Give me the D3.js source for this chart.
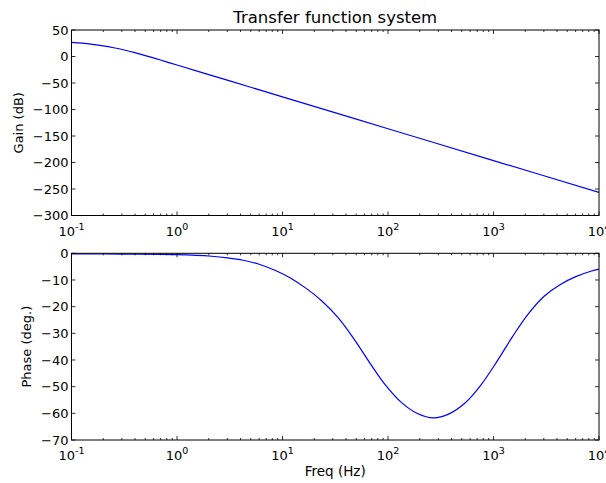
<!DOCTYPE html>
<meta charset="utf-8">
<script src="https://d3js.org/d3.v7.min.js"></script>
<style>
  body { margin: 0; background: #fff; }
  text { font-family: "DejaVu Sans", sans-serif; fill: #000; }
</style>
<div id="chart"></div>
<script>
// values
var gainFreq = [0.1, 0.126, 0.158, 0.2, 0.251, 0.316, 0.398, 0.501, 0.631, 0.794, 1, 2, 5, 10, 100, 1000, 10000];
var gainDb   = [26.8, 25.2, 23.0, 20.1, 16.5, 12.2, 7.2, 1.7, -4.1, -10.05, -16.05, -34.15, -58.05, -76.15, -136.25, -196.35, -256.45];

var phaseFreq = [0.1, 0.3, 1, 2.13, 3.01, 4.25, 6.0, 8.48, 12.0, 16.9, 23.9, 33.8, 47.7, 67.4, 95.2, 134.5, 190, 269,
                 380, 537, 759, 1072, 1514, 2138, 3020, 4266, 6026, 8511, 10000];
var phaseDeg  = [-0.23, -0.3, -0.5, -1.1, -1.7, -2.6, -4.1, -6.35, -9.35, -13.25, -18.05, -24.2, -32.15, -41.15, -49.55, -56.0, -60.05, -61.7,
                 -60.2, -56.15, -49.4, -40.7, -31.25, -22.7, -16.1, -11.75, -8.75, -6.65, -5.95];

var gainTicks = [50, 0, -50, -100, -150, -200, -250, -300];
var phaseTicks = [0, -10, -20, -30, -40, -50, -60, -70];
var decadeTicks = [0.1, 1, 10, 100, 1000, 10000];
var decadeExp = ["-1", "0", "1", "2", "3", "4"];

var W = 606, H = 483;
var left = 71.5, right = 599;

var svg = d3.select("#chart").append("svg")
    .attr("width", W)
    .attr("height", H);

var minorTicks = [];
decadeTicks.slice(0, -1).forEach(function(d) {
  for (var k = 2; k <= 9; k++) minorTicks.push(d * k);
});

function panel(top, bottom, freqs, vals, yTicks, yLabel, yLabelX, domain) {
  var x = d3.scaleLog().domain([0.1, 10000]).range([left, right]);
  var y = d3.scaleLinear().domain(domain).range([bottom, top]);

  var line = d3.line()
      .x(function(d, i) { return x(freqs[i]); })
      .y(function(d) { return y(d); })
      .curve(d3.curveCatmullRom.alpha(0.5));

  var g = svg.append("g");
  var cid = "clip" + Math.round(top);

  g.append("defs").append("clipPath").attr("id", cid)
    .append("rect").attr("x", left).attr("y", top).attr("width", right - left).attr("height", bottom - top);

  g.append("path")
    .datum(vals)
    .attr("d", line)
    .attr("clip-path", "url(#" + cid + ")")
    .attr("fill", "none")
    .attr("stroke", "#0000ff")
    .attr("stroke-width", 1.2);

  // ticks inside, on all four sides
  var tk = g.append("g").attr("stroke", "#000").attr("stroke-width", 0.8);
  decadeTicks.forEach(function(d) {
    tk.append("line").attr("x1", x(d)).attr("x2", x(d)).attr("y1", bottom).attr("y2", bottom - 4);
    tk.append("line").attr("x1", x(d)).attr("x2", x(d)).attr("y1", top).attr("y2", top + 4);
  });
  minorTicks.forEach(function(d) {
    tk.append("line").attr("x1", x(d)).attr("x2", x(d)).attr("y1", bottom).attr("y2", bottom - 2);
    tk.append("line").attr("x1", x(d)).attr("x2", x(d)).attr("y1", top).attr("y2", top + 2);
  });
  yTicks.forEach(function(d) {
    tk.append("line").attr("x1", left).attr("x2", left + 4).attr("y1", y(d)).attr("y2", y(d));
    tk.append("line").attr("x1", right).attr("x2", right - 4).attr("y1", y(d)).attr("y2", y(d));
  });

  g.append("rect")
    .attr("x", left).attr("y", top)
    .attr("width", right - left).attr("height", bottom - top)
    .attr("fill", "none").attr("stroke", "#000").attr("stroke-width", 1);

  g.selectAll(".ylab").data(yTicks).enter().append("text")
    .attr("x", left - 3)
    .attr("y", function(d) { return y(d); })
    .attr("dy", "0.36em")
    .attr("text-anchor", "end")
    .style("font-size", "13px")
    .text(function(d) { return d < 0 ? "\u2212" + (-d) : d; });

  var xl = g.selectAll(".xlab").data(decadeTicks).enter().append("text")
    .attr("x", function(d) { return x(d); })
    .attr("y", bottom + 20)
    .attr("text-anchor", "middle")
    .style("font-size", "13px");
  xl.append("tspan").text("10");
  xl.append("tspan")
    .attr("dy", -6)
    .style("font-size", "9.5px")
    .text(function(d, i) { return decadeExp[i]; });

  g.append("text")
    .attr("transform", "translate(" + yLabelX + "," + ((top + bottom) / 2) + ")rotate(-90)")
    .attr("text-anchor", "middle")
    .style("font-size", "13px")
    .text(yLabel);
}

panel(30, 215.5, gainFreq, gainDb, gainTicks, "Gain (dB)", 23, [-300, 50]);
panel(253.3, 440, phaseFreq, phaseDeg, phaseTicks, "Phase (deg.)", 31, [-70, 0]);

svg.append("text")
  .attr("x", (left + right) / 2)
  .attr("y", 23)
  .attr("text-anchor", "middle")
  .style("font-size", "16.5px")
  .text("Transfer function system");

svg.append("text")
  .attr("x", (left + right) / 2)
  .attr("y", 476)
  .attr("text-anchor", "middle")
  .style("font-size", "13.5px")
  .text("Freq (Hz)");
</script>
